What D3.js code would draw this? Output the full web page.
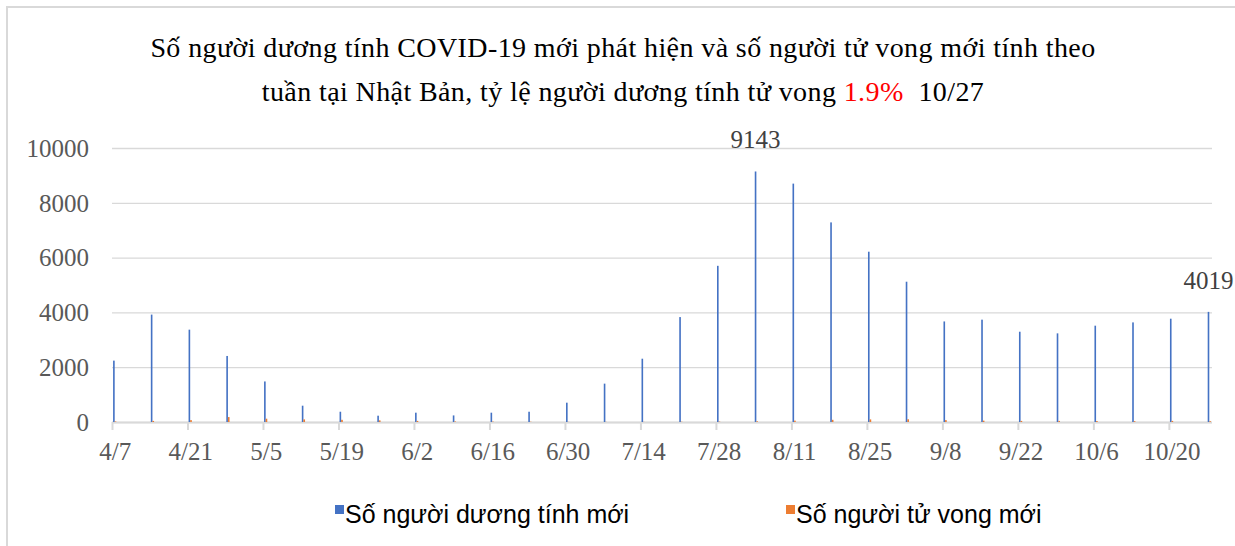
<!DOCTYPE html>
<html>
<head>
<meta charset="utf-8">
<script src="https://cdn.jsdelivr.net/npm/d3@7"></script>
<style>
  body { margin: 0; background: #fff; }
  svg { display: block; }
</style>
</head>
<body>
<div id="main"></div>
<script>
// weekly data, Japan, 4/7 .. 10/27
const weeks = ["4/7","4/14","4/21","4/28","5/5","5/12","5/19","5/26","6/2","6/9","6/16","6/23","6/30","7/7","7/14","7/21","7/28","8/4","8/11","8/18","8/25","9/1","9/8","9/15","9/22","9/29","10/6","10/13","10/20","10/27"];
const positives = [2240,3920,3370,2410,1480,595,375,230,340,240,340,375,705,1400,2310,3830,5700,9143,8700,7285,6215,5120,3670,3735,3295,3235,3515,3635,3770,4019];
const deaths = [20,40,70,180,120,95,80,60,40,20,15,10,5,5,5,10,15,25,50,80,95,100,70,50,40,40,35,30,40,30];
const yTicks = [0,2000,4000,6000,8000,10000];
const seriesNames = ["Số người dương tính mới", "Số người tử vong mới"];
const colors = ["#4472c4", "#ed7d31"];

const W = 1235, H = 546;
const plot = {left: 112, right: 1212, top: 148, bottom: 422};

const svg = d3.select("#main").append("svg").attr("width", W).attr("height", H);

// frame
svg.append("path")
  .attr("d", `M7,${H} V7 H${W}`)
  .attr("fill", "none").attr("stroke", "#d9d9d9").attr("stroke-width", 2);

// title
const title = svg.append("g")
  .attr("font-family", "'Liberation Serif', 'DejaVu Serif', serif")
  .attr("font-size", 28).attr("letter-spacing", 0.4)
  .attr("fill", "#000").attr("text-anchor", "middle");
title.append("text").attr("x", 623).attr("y", 57)
  .text("Số người dương tính COVID-19 mới phát hiện và số người tử vong mới tính theo");
const t2 = title.append("text").attr("x", 623).attr("y", 101);
t2.append("tspan").text("tuần tại Nhật Bản, tỷ lệ người dương tính tử vong ");
t2.append("tspan").attr("fill", "#ff0000").text("1.9%");
t2.append("tspan").text("\u00a0\u00a010/27");

// scales: date axis, one slot per day
const parse = d3.utcParse("%Y/%m/%d");
const dates = weeks.map(w => parse("2020/" + w));
const x = d3.scaleUtc()
  .domain([dates[0], d3.utcDay.offset(dates[dates.length - 1], 1)])
  .range([plot.left, plot.right]);
const day = x(d3.utcDay.offset(dates[0], 1)) - x(dates[0]);
const y = d3.scaleLinear().domain([0, 10000]).range([plot.bottom, plot.top]);

// gridlines
svg.append("g")
  .attr("transform", `translate(${plot.left},0)`)
  .call(d3.axisLeft(y).tickValues(yTicks).tickSize(-(plot.right - plot.left)).tickFormat(""))
  .call(g => g.select(".domain").remove())
  .call(g => g.selectAll("line").attr("stroke", "#d9d9d9").attr("stroke-width", 1.3));

// y labels
svg.append("g")
  .attr("font-family", "'Liberation Serif', serif").attr("font-size", 25)
  .attr("fill", "#595959").attr("text-anchor", "end")
  .selectAll("text").data(yTicks).join("text")
  .attr("x", 89).attr("y", d => y(d)).attr("dy", "0.35em")
  .text(d => d);

// x axis
const tickDates = dates.filter((d, i) => i % 2 === 0);
const xAxis = svg.append("g")
  .attr("transform", `translate(0,${plot.bottom})`)
  .call(d3.axisBottom(x).tickValues(tickDates).tickSize(8).tickSizeOuter(0)
    .tickFormat(d3.utcFormat("%-m/%-d")));
xAxis.select(".domain").attr("stroke", "#d9d9d9").attr("stroke-width", 2)
  .attr("d", `M${plot.left},0.5H${plot.right}`);
xAxis.selectAll(".tick line").attr("stroke", "#d9d9d9").attr("stroke-width", 2);
xAxis.selectAll(".tick text")
  .attr("x", day / 2).attr("y", 0).attr("dy", "38")
  .attr("font-family", "'Liberation Serif', serif").attr("font-size", 25)
  .attr("fill", "#595959");

// bars
const bw = day * 0.3;
svg.append("g").selectAll("rect").data(positives).join("rect")
  .attr("x", (d, i) => x(dates[i]) + day * 0.2)
  .attr("y", d => y(d))
  .attr("width", bw)
  .attr("height", d => y(0) - y(d))
  .attr("fill", colors[0]);
svg.append("g").selectAll("rect").data(deaths).join("rect")
  .attr("x", (d, i) => x(dates[i]) + day * 0.2 + bw)
  .attr("y", d => y(d))
  .attr("width", bw)
  .attr("height", d => y(0) - y(d))
  .attr("fill", colors[1]);

// value labels for peak and last week
const labelIdx = [17, 29];
svg.append("g")
  .attr("font-family", "'Liberation Serif', serif").attr("font-size", 25)
  .attr("fill", "#404040").attr("text-anchor", "middle")
  .selectAll("text").data(labelIdx).join("text")
  .attr("x", i => x(dates[i]) + day * 0.2 + bw / 2)
  .attr("y", i => y(positives[i]) - 23)
  .text(i => positives[i]);

// legend
const legendX = [335, 786];
const lg = svg.append("g").selectAll("g").data(seriesNames).join("g")
  .attr("transform", (d, i) => `translate(${legendX[i]},514)`);
lg.append("rect").attr("x", 0).attr("y", -9).attr("width", 9).attr("height", 9)
  .attr("fill", (d, i) => colors[i]);
lg.append("text").attr("x", 10).attr("y", 9)
  .attr("font-family", "'Liberation Sans', Arial, sans-serif").attr("font-size", 25)
  .attr("fill", "#000")
  .text(d => d);
</script>
</body>
</html>
